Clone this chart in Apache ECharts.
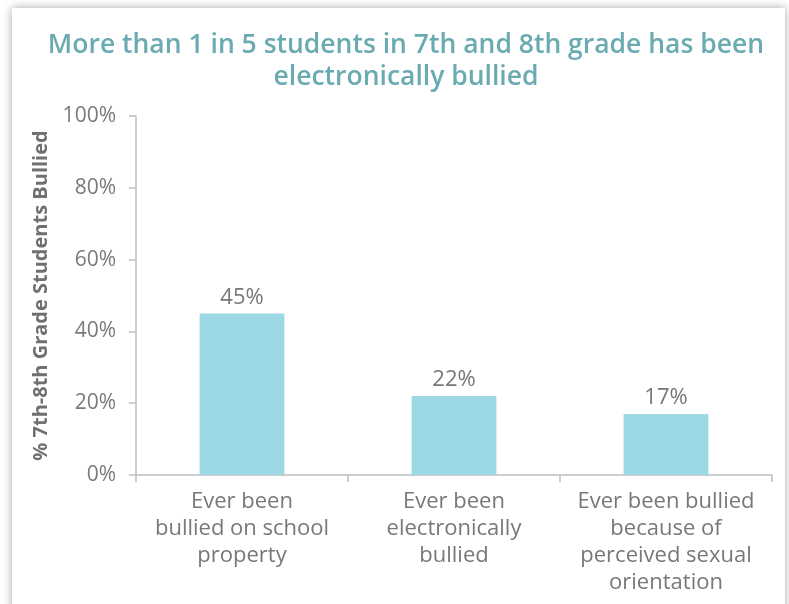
<!DOCTYPE html>
<html><head><meta charset="utf-8">
<script src="https://cdn.jsdelivr.net/npm/echarts@6/dist/echarts.min.js"></script>
<style>
html,body{margin:0;padding:0;background:#fff;}
#card{position:absolute;left:12px;top:8px;width:773px;height:610px;background:#fff;box-shadow:0 0 9px rgba(0,0,0,0.35);}
#chart{position:absolute;left:0;top:0;width:789px;height:604px;}
</style></head>
<body>
<div id="card"></div>
<div id="chart"></div>
<script>
const titleText = 'More than 1 in 5 students in 7th and 8th grade has been\nelectronically bullied';
const categories = ['Ever been\nbullied on school\nproperty', 'Ever been\nelectronically\nbullied', 'Ever been bullied\nbecause of\nperceived sexual\norientation'];
const values = [45, 22, 17];
const yAxisName = '% 7th-8th Grade Students Bullied';

const chart = echarts.init(document.getElementById('chart'), null, {renderer:'canvas'});
const font = '"Open Sans", "Noto Sans", sans-serif';
chart.setOption({
  backgroundColor: 'transparent',
  animation: false,
  title: {
    text: titleText, left: 401, top: 24, textAlign: 'center',
    textStyle: {color:'#6aabb2', fontSize:26.5, fontWeight:600, fontFamily:font, lineHeight:32}
  },
  grid: {left:136, right:17, top:116, bottom:129, containLabel:false},
  xAxis: {
    type:'category', data:categories,
    axisLine:{lineStyle:{color:'#bfbfbf', width:1.5}},
    axisTick:{show:true, length:7, lineStyle:{color:'#bfbfbf', width:1.5}},
    axisLabel:{color:'#787878', fontSize:22, fontFamily:font, lineHeight:27, margin:13, interval:0}
  },
  yAxis: {
    type:'value', min:0, max:100, interval:20,
    name:yAxisName, nameLocation:'middle', nameGap:83, nameRotate:90,
    nameTextStyle:{color:'#707070', fontSize:20, fontWeight:'bold', fontFamily:font},
    axisLine:{show:true, lineStyle:{color:'#bfbfbf', width:1.5}},
    axisTick:{show:true, length:7, lineStyle:{color:'#bfbfbf', width:1.5}},
    splitLine:{show:false},
    axisLabel:{color:'#7a7a7a', fontSize:21, fontFamily:font, margin:20, formatter:'{value}%'}
  },
  series: [{
    type:'bar', data:values, barCategoryGap:'60%',
    itemStyle:{color:'#9dd8e5'},
    label:{show:true, position:'top', distance:5, color:'#777', fontSize:22, fontFamily:font, formatter:'{c}%'}
  }]
});
</script>
</body></html>
